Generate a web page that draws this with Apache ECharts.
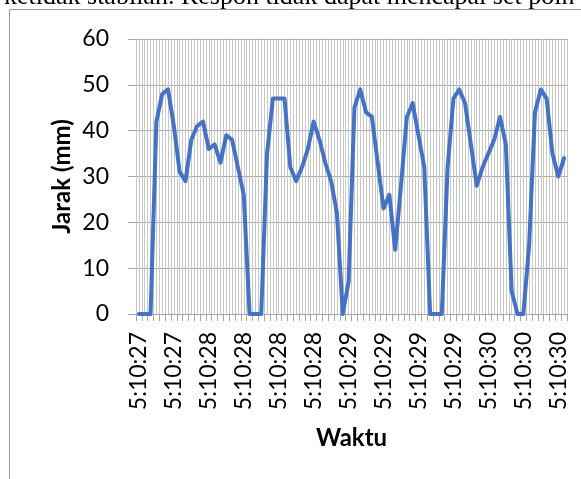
<!DOCTYPE html>
<html>
<head>
<meta charset="utf-8">
<script src="https://cdn.jsdelivr.net/npm/echarts@6/dist/echarts.min.js"></script>
<style>html,body{margin:0;padding:0;background:#fff;}#c{width:581px;height:479px;}</style>
</head>
<body>
<div id="c"></div>
<script>
// Time labels (seconds) and how many samples fall in each second
const seconds = ['5:10:27', '5:10:28', '5:10:29', '5:10:30'];
const samplesPerSecond = [12, 24, 24, 14];
// Distance readings (mm)
const jarak = [
  0, 0, 0, 42, 48, 49, 41, 31, 29, 38,
  41, 42, 36, 37, 33, 39, 38, 32, 26, 0,
  0, 0, 35, 47, 47, 47, 32, 29, 32, 36,
  42, 38, 33, 29, 22, 0, 7, 45, 49, 44,
  43, 33, 23, 26, 14, 28, 43, 46, 39, 32,
  0, 0, 0, 32, 47, 49, 46, 37, 28, 32,
  35, 38, 43, 37, 5, 0, 0, 15, 44, 49,
  47, 35, 30, 34
];
const yTicks = [0, 10, 20, 30, 40, 50, 60];
const headerText = 'ketidak stabilan. Respon tidak dapat mencapai set poin';

const categories = [];
seconds.forEach((s, k) => { for (let j = 0; j < samplesPerSecond[k]; j++) categories.push(s); });
const gridCats = [];
for (let i = 0; i < categories.length * 2; i++) gridCats.push('');

const chart = echarts.init(document.getElementById('c'), null, {renderer: 'canvas'});
const FONT = 'Lato';
chart.setOption({
  animation: false,
  backgroundColor: '#fff',
  grid: {left: 136, right: 14, top: 39, bottom: 165, containLabel: false},
  graphic: [
    {type: 'rect', shape: {x: 9.5, y: 9.5, width: 700, height: 600}, style: {fill: 'none', stroke: '#9a9a9a', lineWidth: 1}, z: -10},
    {type: 'text', x: 4, y: 10, style: {text: headerText, font: '26px "Liberation Serif"', fill: '#000', verticalAlign: 'bottom', align: 'left'}}
  ],
  xAxis: [
    {
      type: 'category', data: categories, boundaryGap: true,
      name: 'Waktu', nameLocation: 'middle', nameGap: 112, nameMoveOverlap: false,
      nameTextStyle: {fontFamily: FONT, fontWeight: 'bold', fontSize: 24, color: '#000'},
      axisLine: {show: true, lineStyle: {color: '#a6a6a6', width: 1}},
      axisTick: {show: true, interval: 0, length: 7, lineStyle: {color: '#a6a6a6'}},
      axisLabel: {interval: 5, rotate: 90, fontFamily: FONT, fontSize: 23, color: '#000', margin: 18},
      splitLine: {show: false}
    },
    {
      type: 'category', data: gridCats, boundaryGap: true, position: 'bottom',
      axisLine: {show: false}, axisTick: {show: false}, axisLabel: {show: false},
      splitLine: {show: true, interval: 0, lineStyle: {color: '#c8c8c8', width: 1}}
    }
  ],
  yAxis: {
    type: 'value', min: yTicks[0], max: yTicks[yTicks.length - 1], interval: 10,
    name: 'Jarak (mm)', nameLocation: 'middle', nameGap: 62, nameMoveOverlap: false,
    nameTextStyle: {fontFamily: FONT, fontWeight: 'bold', fontSize: 24, color: '#000'},
    axisLine: {show: false},
    axisTick: {show: true, length: 8, lineStyle: {color: '#a6a6a6'}},
    axisLabel: {fontFamily: FONT, fontSize: 23, color: '#000', margin: 27},
    splitLine: {show: true, lineStyle: {color: '#a6a6a6', width: 1}}
  },
  series: [{
    type: 'line', data: jarak, xAxisIndex: 0, symbol: 'none',
    lineStyle: {color: '#4472C4', width: 4, join: 'round', cap: 'round'}
  }]
});
</script>
</body>
</html>
